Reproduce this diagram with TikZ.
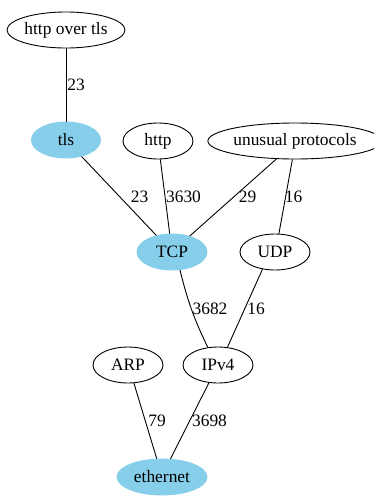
\documentclass[tikz,border=0pt]{standalone}
\usepackage{fontspec}
\setmainfont{Liberation Serif}
\usetikzlibrary{shapes.geometric}
\definecolor{sky}{HTML}{87CEEB}
\begin{document}
\begin{tikzpicture}[x=1pt,y=-1pt,
  proto/.style={ellipse,draw,line width=0.9pt,inner sep=0pt,minimum height=36pt,
     font=\fontsize{17.4}{19}\selectfont},
  hl/.style={proto,fill=sky,draw=sky},
  lbl/.style={font=\fontsize{17.4}{19}\selectfont,inner sep=0pt},
  edge/.style={line width=0.9pt}]
\useasboundingbox (0,0) rectangle (374,501);
\node[proto,minimum width=118pt] (hot) at (66,30) {http over tls};
\node[hl,minimum width=69pt] (tls) at (66,140) {tls};
\node[proto,minimum width=70pt] (http) at (158,141) {http};
\node[proto,minimum width=156pt] (unu) at (295,141) {unusual protocols};
\node[hl,minimum width=70pt] (tcp) at (172,252) {TCP};
\node[proto,minimum width=70pt] (udp) at (275,252) {UDP};
\node[proto,minimum width=70pt] (arp) at (128,365) {ARP};
\node[proto,minimum width=70pt] (ipv4) at (218,365) {IPv4};
\node[hl,minimum width=90pt] (eth) at (162,477) {ethernet};

\draw[edge] (hot) -- (tls);
\draw[edge] (tls) -- (tcp);
\draw[edge] (http) -- (tcp);
\draw[edge] (unu.-136) -- (tcp.42);
\draw[edge] (unu.-98) -- (udp.78);
\draw[edge] (tcp.-66) to[bend right=6] (ipv4.120);
\draw[edge] (udp.-126) -- (ipv4.62);
\draw[edge] (arp.-72) -- (eth.106);
\draw[edge] (ipv4.-117) -- (eth.65);

\node[lbl] (l1) at (76,85) {23};
\node[lbl] (l2) at (139.5,197) {23};
\node[lbl] (l3) at (183.5,197) {3630};
\node[lbl] (l4) at (247.5,197) {29};
\node[lbl] (l5) at (293.5,197) {16};
\node[lbl] (l6) at (210,309) {3682};
\node[lbl] (l7) at (256,309) {16};
\node[lbl] (l8) at (157,421) {79};
\node[lbl] (l9) at (209.5,421) {3698};
\end{tikzpicture}
\end{document}
